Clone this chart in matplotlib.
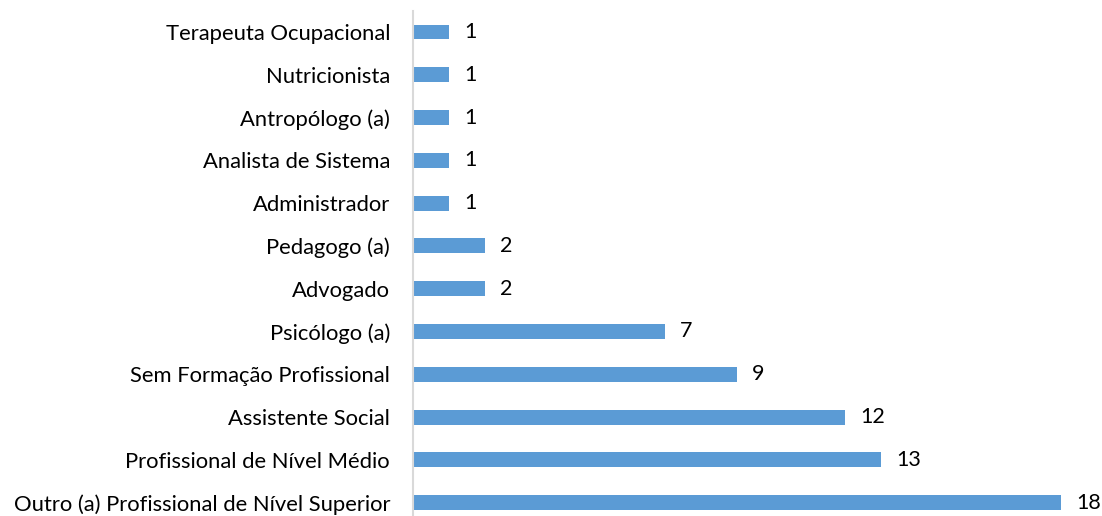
import matplotlib
matplotlib.use("Agg")
import matplotlib.pyplot as plt

categories = [
    "Outro (a) Profissional de Nível Superior",
    "Profissional de Nível Médio",
    "Assistente Social",
    "Sem Formação Profissional",
    "Psicólogo (a)",
    "Advogado",
    "Pedagogo (a)",
    "Administrador",
    "Analista de Sistema",
    "Antropólogo (a)",
    "Nutricionista",
    "Terapeuta Ocupacional",
]
values = [18, 13, 12, 9, 7, 2, 2, 1, 1, 1, 1, 1]

plt.rcParams["font.family"] = ["Lato", "DejaVu Sans"]

W, H = 1102, 516
fig = plt.figure(figsize=(W / 100, H / 100), dpi=100)
# axes placed in pixel terms: left at 413 px, bar pitch ~42.8 px
ax = fig.add_axes([413 / W, -8 / H, 720 / W, 513.4 / H])

pos = list(range(len(categories)))
ax.barh(pos, values, height=0.35, color="#5B9BD5")
for p, v in zip(pos, values):
    ax.text(v + 0.42, p, str(v), va="center", ha="left", fontsize=15.5, color="#000000")

ax.set_xlim(0, 20)
ax.set_ylim(-0.5, len(categories) - 0.5)
ax.set_yticks(pos)
ax.set_yticklabels(categories, fontsize=15.8)
ax.tick_params(axis="y", length=0, pad=16.5)
ax.set_xticks([])
for s in ["top", "right", "bottom"]:
    ax.spines[s].set_visible(False)
ax.spines["left"].set_color("#D9D9D9")
ax.spines["left"].set_linewidth(1.5)

fig.savefig("out.png", dpi=100)
